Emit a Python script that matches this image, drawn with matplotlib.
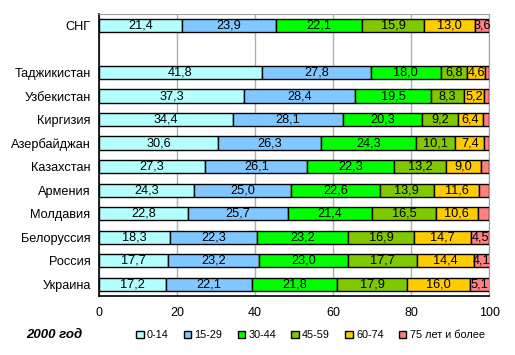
import matplotlib
matplotlib.use("Agg")
import matplotlib.pyplot as plt
import numpy as np

plt.rcParams['font.family'] = ['Liberation Sans', 'DejaVu Sans']

# rows from top to bottom ('' = empty spacer row)
countries = ['СНГ', '', 'Таджикистан', 'Узбекистан', 'Киргизия', 'Азербайджан',
             'Казахстан', 'Армения', 'Молдавия', 'Белоруссия', 'Россия', 'Украина']
groups = ['0-14', '15-29', '30-44', '45-59', '60-74', '75 лет и более']
colors = ['#B3FFFF', '#80C8FF', '#00FF00', '#80C800', '#FFCC00', '#FF8080']

age_0_14 = [21.4, 0, 41.8, 37.3, 34.4, 30.6, 27.3, 24.3, 22.8, 18.3, 17.7, 17.2]
age_15_29 = [23.9, 0, 27.8, 28.4, 28.1, 26.3, 26.1, 25.0, 25.7, 22.3, 23.2, 22.1]
age_30_44 = [22.1, 0, 18.0, 19.5, 20.3, 24.3, 22.3, 22.6, 21.4, 23.2, 23.0, 21.8]
age_45_59 = [15.9, 0, 6.8, 8.3, 9.2, 10.1, 13.2, 13.9, 16.5, 16.9, 17.7, 17.9]
age_60_74 = [13.0, 0, 4.6, 5.2, 6.4, 7.4, 9.0, 11.6, 10.6, 14.7, 14.4, 16.0]
age_75 = [3.6, 0, 1.0, 1.3, 1.6, 1.3, 2.1, 2.6, 3.0, 4.5, 4.1, 5.1]

series = [age_0_14, age_15_29, age_30_44, age_45_59, age_60_74, age_75]

fig = plt.figure(figsize=(5.15, 3.55), dpi=100)
ax = fig.add_axes([0.192, 0.166, 0.758, 0.795])

y = np.arange(len(countries))
left = np.zeros(len(countries))
for vals, col, name in zip(series, colors, groups):
    vals = np.array(vals)
    mask = vals > 0
    bars = ax.barh(y[mask], vals[mask], left=left[mask], height=0.57, color=col,
                   edgecolor='black', linewidth=1.0, label=name, zorder=3)
    for b, v in zip(bars, vals[mask]):
        if v >= 3.5:
            ax.text(b.get_x() + b.get_width() / 2, b.get_y() + b.get_height() / 2,
                    f'{v:.1f}'.replace('.', ','), ha='center', va='center',
                    fontsize=9.2, zorder=4)
    left += vals

ax.set_ylim(len(countries) - 0.5, -0.5)
ax.set_xlim(0, 100)
ax.set_yticks(y)
ax.set_yticklabels(countries, fontsize=9.2)
ax.set_xticks([0, 20, 40, 60, 80, 100])
ax.tick_params(axis='x', labelsize=9, length=0, pad=8)
ax.tick_params(axis='y', length=0, pad=6)
ax.grid(axis='x', color='#B0B0B0', linewidth=1.0, zorder=0)
for s in ['top', 'right']:
    ax.spines[s].set_color('#A0A0A0')
for s in ['left', 'bottom']:
    ax.spines[s].set_color('black')
    ax.spines[s].set_linewidth(1.2)

fig.text(0.05, 0.055, '2000 год', fontsize=9.5, fontweight='bold', style='italic',
         va='center')
handles, labels = ax.get_legend_handles_labels()
leg = fig.legend(handles, labels, loc='center left', bbox_to_anchor=(0.245, 0.055),
                 ncol=6, frameon=False, fontsize=7.8, handlelength=0.7,
                 handleheight=0.7, handletextpad=0.3, columnspacing=1.4)

fig.savefig('out.png', dpi=100)
